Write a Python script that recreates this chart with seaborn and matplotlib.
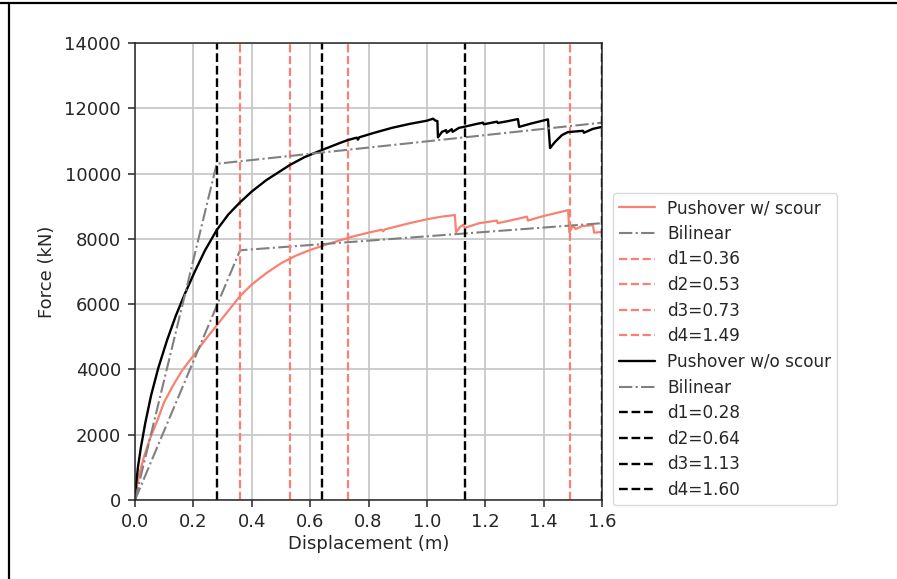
import matplotlib
matplotlib.use("Agg")
import matplotlib.pyplot as plt
from matplotlib.lines import Line2D
import seaborn as sns

# Pushover curve with scour
scour_disp = [0.000, 0.005, 0.015, 0.030, 0.050, 0.075, 0.100, 0.130, 0.160, 0.200,
              0.240, 0.280, 0.320, 0.360, 0.400, 0.450, 0.500, 0.550, 0.600, 0.650,
              0.700, 0.750, 0.800, 0.845, 0.850, 0.856, 0.900, 0.950, 1.000, 1.050,
              1.096, 1.100, 1.113, 1.124, 1.130, 1.180, 1.240, 1.243, 1.300, 1.343,
              1.346, 1.400, 1.484, 1.488, 1.501, 1.510, 1.531, 1.569, 1.573, 1.600]
scour_force = [0, 350, 800, 1300, 1850, 2400, 3000, 3500, 3950, 4420,
               4900, 5350, 5800, 6250, 6600, 6950, 7250, 7480, 7660, 7810,
               7950, 8080, 8190, 8280, 8230, 8290, 8390, 8500, 8600, 8680,
               8730, 8200, 8360, 8430, 8340, 8480, 8560, 8480, 8590, 8680,
               8560, 8700, 8880, 8200, 8400, 8300, 8390, 8420, 8190, 8210]

# Pushover curve without scour
noscour_disp = [0.000, 0.004, 0.010, 0.020, 0.035, 0.055, 0.080, 0.110, 0.140, 0.170,
                0.205, 0.240, 0.280, 0.320, 0.360, 0.400, 0.450, 0.490, 0.530, 0.580,
                0.640, 0.700, 0.730, 0.760, 0.764, 0.768, 0.820, 0.880, 0.940, 1.000,
                1.021, 1.030, 1.036, 1.038, 1.052, 1.066, 1.068, 1.085, 1.088, 1.110,
                1.131, 1.170, 1.192, 1.195, 1.240, 1.243, 1.280, 1.312, 1.316, 1.360,
                1.415, 1.422, 1.439, 1.463, 1.483, 1.535, 1.538, 1.569, 1.600]
noscour_force = [0, 500, 1000, 1600, 2350, 3200, 4050, 4900, 5650, 6300,
                 7000, 7650, 8270, 8750, 9120, 9450, 9800, 10030, 10260, 10500,
                 10720, 10930, 11030, 11100, 11040, 11110, 11250, 11400, 11520, 11620,
                 11680, 11620, 11610, 11110, 11280, 11330, 11250, 11360, 11280, 11400,
                 11440, 11520, 11560, 11510, 11590, 11550, 11610, 11670, 11430, 11540,
                 11660, 10780, 10970, 11180, 11270, 11310, 11250, 11370, 11430]

# Bilinear idealisations
bilin_scour_disp = [0.0, 0.36, 1.60]
bilin_scour_force = [0, 7650, 8480]
bilin_noscour_disp = [0.0, 0.28, 1.60]
bilin_noscour_force = [0, 10300, 11560]

# Damage-state displacement thresholds
scour_limits = [0.36, 0.53, 0.73, 1.49]
noscour_limits = [0.28, 0.64, 1.13, 1.60]

x_ticks = [0.0, 0.2, 0.4, 0.6, 0.8, 1.0, 1.2, 1.4, 1.6]
y_ticks = [0, 2000, 4000, 6000, 8000, 10000, 12000, 14000]

sns.set_theme(style="ticks")
plt.rcParams["font.family"] = ["DejaVu Sans"]
FS = 13
LEG_FS = 12.2

fig = plt.figure(figsize=(8.97, 5.79), dpi=100)
ax = fig.add_axes([135 / 897, 79 / 579, 467 / 897, 457 / 579])

SALMON = "salmon"
GREY = "gray"

# with scour
sns.lineplot(x=scour_disp, y=scour_force, ax=ax, color=SALMON, linewidth=1.6,
             estimator=None, sort=False, label="Pushover w/ scour")
sns.lineplot(x=bilin_scour_disp, y=bilin_scour_force, ax=ax, color=GREY, linewidth=1.5,
             linestyle="-.", estimator=None, sort=False, label="Bilinear")
for i, d in enumerate(scour_limits, start=1):
    ax.axvline(d, color=SALMON, linestyle="--", linewidth=1.6, label=f"d{i}={d:.2f}")

# without scour
sns.lineplot(x=noscour_disp, y=noscour_force, ax=ax, color="black", linewidth=1.7,
             estimator=None, sort=False, label="Pushover w/o scour")
sns.lineplot(x=bilin_noscour_disp, y=bilin_noscour_force, ax=ax, color=GREY, linewidth=1.5,
             linestyle="-.", estimator=None, sort=False, label="Bilinear")
for i, d in enumerate(noscour_limits, start=1):
    ax.axvline(d, color="black", linestyle="--", linewidth=1.7, label=f"d{i}={d:.2f}")

ax.set_xlim(0, 1.6)
ax.set_ylim(0, 14000)
ax.set_xticks(x_ticks)
ax.set_xticklabels([f"{t:.1f}" for t in x_ticks])
ax.set_yticks(y_ticks)
ax.set_yticklabels([str(t) for t in y_ticks])
ax.grid(True, color="#c8c8c8", linewidth=1.3)
ax.set_axisbelow(True)
ax.tick_params(axis="both", labelsize=FS, length=5, width=1.1, colors=".15")
ax.tick_params(axis="y", pad=5)
ax.tick_params(axis="x", pad=4.5)
for s in ax.spines.values():
    s.set_color(".15")
    s.set_linewidth(1.1)
ax.set_xlabel("Displacement (m)", fontsize=FS, labelpad=3)
ax.set_ylabel("Force (kN)", fontsize=FS, labelpad=6)

handles, labels = ax.get_legend_handles_labels()
leg = ax.legend(handles, labels, loc="lower left", bbox_to_anchor=(1.0236, -0.011),
                borderaxespad=0, fontsize=LEG_FS, framealpha=1, labelspacing=0.45,
                handlelength=2.1, handletextpad=0.75, borderpad=0.35,
                edgecolor="0.85", fancybox=True)

# page border along the top and left edges
fig.add_artist(Line2D([0, 1], [1 - 2.5 / 579, 1 - 2.5 / 579],
                      transform=fig.transFigure, color="black", linewidth=1.6))
fig.add_artist(Line2D([9.3 / 897, 9.3 / 897], [0, 1 - 2.5 / 579],
                      transform=fig.transFigure, color="black", linewidth=1.6))

fig.savefig("out.png", dpi=100)
